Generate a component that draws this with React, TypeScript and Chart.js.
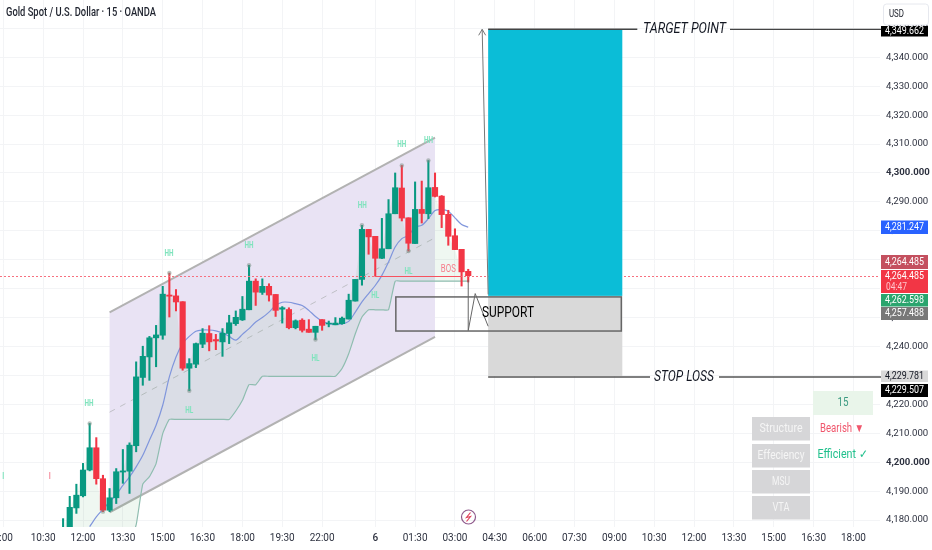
import React, { useEffect, useRef } from "react";
import { Chart, registerables } from "chart.js";

Chart.register(...registerables);

const FONT = 'Roboto, sans-serif';
const firstCandle = 9;
const firstMa = 13;

const opens = [4172,4172,4184.2,4188.4,4197.3,4205.0,4194.3,4183.4,4187.7,4196.6,4196.9,4205.7,4229.3,4236.4,4243.0,4243.9,4257.8,4257.5,4255.5,4232.5,4233.9,4240.8,4244.5,4242.4,4241.6,4244.5,4247.9,4249.2,4252.7,4262.6,4258.7,4260.8,4258.0,4252.9,4252.8,4246.5,4249.1,4246.0,4244.9,4249.3,4247.8,4247.5,4247.9,4249.5,4255.7,4263.2,4280.5,4278.1,4270.5,4273.8,4285.9,4294.8,4284.5,4275.6,4287.4,4285.9,4295.0,4292.0,4285.7,4278.3,4273.6,4266.0];
const closes = [4176,4184.4,4188.6,4197.3,4205.0,4194.3,4183.4,4187.7,4196.7,4197.0,4205.9,4229.5,4236.6,4243.0,4244.0,4258.1,4257.4,4255.4,4232.5,4234.1,4241.0,4244.6,4241.6,4241.9,4244.6,4248.2,4250.1,4252.9,4262.6,4258.8,4260.8,4257.8,4252.5,4253.4,4246.5,4248.9,4245.6,4244.9,4247.0,4247.3,4248.1,4248.1,4249.8,4256.0,4263.2,4280.5,4277.9,4270.5,4273.8,4285.9,4294.9,4284.4,4275.7,4287.4,4286.0,4294.9,4291.9,4285.6,4278.1,4273.5,4265.8,4264.485];
const highs = [4180.5,4188.2,4192.4,4199.6,4213.4,4208.5,4195.5,4190.9,4197.8,4204.4,4206.7,4234.7,4240.1,4243.5,4247.3,4260.8,4265.4,4259.7,4255.5,4235.8,4241.2,4246.2,4247.2,4244.2,4246.2,4250.8,4252.3,4257.3,4268.1,4263.4,4263.4,4261.7,4258.0,4253.8,4253.4,4249.2,4249.6,4249.3,4247.0,4249.3,4248.8,4250.0,4250.2,4258.1,4263.2,4281.9,4280.5,4278.1,4284.3,4290.8,4300.0,4302.6,4284.5,4296.9,4297.2,4304.3,4300.0,4292.2,4287.1,4280.7,4273.6,4266.7];
const lows = [4170,4170,4182.3,4188.0,4197.0,4192.4,4182.9,4182.9,4185.7,4192.7,4189.2,4203.6,4226.6,4228.3,4233.0,4242.5,4250.2,4252.3,4231.8,4224.7,4232.7,4239.6,4238.5,4238.9,4236.6,4241.0,4247.3,4249.0,4252.7,4254.2,4258.0,4255.7,4250.4,4248.1,4246.1,4246.1,4245.0,4244.9,4242.4,4245.6,4246.8,4247.5,4247.7,4249.5,4255.7,4261.2,4271.9,4264.3,4270.4,4273.8,4285.9,4283.4,4273.0,4275.6,4282.7,4284.2,4291.7,4281.1,4275.0,4273.5,4260.9,4262.3];
const maLine = [4177.7,4181.1,4183.7,4186.3,4188.8,4192.0,4194.9,4198.4,4202.4,4207.6,4212.8,4219.7,4229.5,4236.4,4241.0,4243.5,4245.3,4245.7,4245.7,4245.4,4244.7,4243.5,4242.2,4244.2,4246.2,4248.5,4250.0,4251.9,4254.2,4255.3,4255.3,4254.8,4254.2,4252.5,4250.4,4248.8,4247.9,4247.7,4247.8,4248.7,4251.9,4255.4,4258.3,4261.1,4264.6,4269.2,4274.4,4277.3,4278.4,4281.3,4281.9,4284.2,4287.0,4287.3,4286.8,4284.5,4282.2,4281.247];
const bandLine = [4165,4165,4165,4165,4165,4165,4165,4165,4165,4165,4172,4178.3,4192.4,4195.0,4199.5,4209.9,4214.8,4214.8,4214.8,4214.8,4214.8,4214.8,4214.8,4214.8,4214.8,4214.8,4217.7,4221.4,4226.8,4226.8,4229.7,4229.7,4229.7,4229.7,4229.7,4229.7,4229.7,4229.7,4229.7,4229.7,4229.7,4229.7,4232.4,4237.5,4244.4,4250.2,4252.7,4252.7,4252.7,4252.7,4262.598,4262.598,4262.598,4262.598,4262.598,4262.598,4262.598,4262.598,4262.598,4262.598,4262.598,4262.598];

const highPivots = [13, 25, 37, 54, 60, 64];
const lowPivots = [15, 28, 47, 61];

const timeTickIndex = [0,6,12,18,24,30,36,42,48,56,62,68,74,80,86,92,98,104,110,116,122,128];
const timeTickLabels = ["9:00","10:30","12:00","13:30","15:00","16:30","18:00","19:30","22:00","6","01:30","03:00","04:30","06:00","07:30","09:00","10:30","12:00","13:30","15:00","16:30","18:00"];
const priceTicks = [4180,4190,4200,4210,4220,4230,4240,4250,4260,4270,4280,4290,4300,4310,4320,4330,4340,4350];

const channelIndex = [16, 65];
const channelTop = [4251.8, 4312.2];
const channelMid = [4217.3, 4277.6];
const channelBottom = [4182.7, 4243.3];

const targetPrice = 4349.662;
const stopPrice = 4229.781;
const supportTopPrice = 4257.488;
const supportBottomPrice = 4245.7;
const lastPrice = 4264.485;
const boxIndex = [73, 93.2];
const supportIndex = [59.1, 93.05];
const arrowPath = [[73, 4258], [72.1, targetPrice]];
const zigzagPath = [[70, 4263], [70, 4245.5], [71.05, 4258.3], [73, 4247]];
const bosIndex = [56, 69];

const structureLabels: [string, number, number][] = [
  ["HH", 12.9, 4220.1], ["HH", 24.95, 4272.0], ["HH", 37, 4274.8], ["HH", 54.06, 4288.7], ["HH", 60, 4309.7], ["HH", 64, 4311.2],
  ["HL", 28, 4217.7], ["HL", 47, 4235.7], ["HL", 56, 4257.5], ["HL", 61, 4265.8],
];
const priceTags: [string, number, number, string, string][] = [
  ["4,349.662", 26, 36.5, "#000000", "#ffffff"],
  ["4,281.247", 220.5, 234, "#2962ff", "#ffffff"],
  ["4,264.485", 255, 269, "#c4505f", "#ffffff"],
  ["4,264.485", 270, 293, "#f23645", "#ffffff"],
  ["4,262.598", 294, 306.5, "#2aa56e", "#ffffff"],
  ["4,257.488", 307, 320, "#787878", "#ffffff"],
  ["4,229.781", 370.5, 382, "#d9d9d9", "#131722"],
  ["4,229.507", 384, 397, "#000000", "#ffffff"],
];
const tableRows: [string, number][] = [["Structure", 43], ["Effeciency", 47], ["MSU", 18], ["VTA", 17]];

const UP = "#089981";
const DOWN = "#f23645";

const overlay = {
  id: "overlay",
  beforeDatasetsDraw(chart: any) {
    const { ctx, scales: { x, y } } = chart;
    const X = (i: number) => x.getPixelForValue(i);
    const Y = (v: number) => y.getPixelForValue(v);
    ctx.save();
    ctx.fillStyle = "#e9e3f4";
    ctx.beginPath();
    ctx.moveTo(X(channelIndex[0]), Y(channelTop[0]));
    ctx.lineTo(X(channelIndex[1]), Y(channelTop[1]));
    ctx.lineTo(X(channelIndex[1]), Y(channelBottom[1]));
    ctx.lineTo(X(channelIndex[0]), Y(channelBottom[0]));
    ctx.closePath();
    ctx.fill();
    ctx.strokeStyle = "#b2b2b2";
    ctx.lineWidth = 2;
    for (const edge of [channelTop, channelBottom]) {
      ctx.beginPath();
      ctx.moveTo(X(channelIndex[0]), Y(edge[0]));
      ctx.lineTo(X(channelIndex[1]), Y(edge[1]));
      ctx.stroke();
    }
    ctx.strokeStyle = "#c0c0c6";
    ctx.lineWidth = 1;
    ctx.setLineDash([6, 6]);
    ctx.beginPath();
    ctx.moveTo(X(channelIndex[0]), Y(channelMid[0]));
    ctx.lineTo(X(channelIndex[1]), Y(channelMid[1]));
    ctx.stroke();
    ctx.restore();
  },
  afterDatasetsDraw(chart: any) {
    const { ctx, scales: { x, y } } = chart;
    const X = (i: number) => x.getPixelForValue(i);
    const Y = (v: number) => y.getPixelForValue(v);
    // draws text squeezed to the width it has in the reference
    const text = (s: string, px: number, py: number, font: string, color: string, width: number, align: CanvasTextAlign = "center") => {
      ctx.save();
      ctx.font = font;
      ctx.fillStyle = color;
      ctx.textAlign = align;
      ctx.textBaseline = "middle";
      ctx.translate(px, py);
      ctx.scale(width / ctx.measureText(s).width, 1);
      ctx.fillText(s, 0, 0);
      ctx.restore();
    };
    const line = (x1: number, y1: number, x2: number, y2: number, color: string, w: number) => {
      ctx.strokeStyle = color;
      ctx.lineWidth = w;
      ctx.beginPath();
      ctx.moveTo(x1, y1);
      ctx.lineTo(x2, y2);
      ctx.stroke();
    };
    ctx.save();

    // title
    text("Gold Spot / U.S. Dollar · 15 · OANDA", 6, 13, `500 12.5px ${FONT}`, "#1e222d", 150, "left");

    // last-price dotted line
    const lastY = Math.round(Y(lastPrice)) + 0.5;
    ctx.setLineDash([2, 2]);
    line(0, lastY, 880, lastY, "#f7707f", 1);
    ctx.setLineDash([]);

    // BOS line
    line(X(bosIndex[0]), lastY, X(bosIndex[1]), lastY, "#f7525f", 1.2);
    text("BOS", X(67), Y(4266.7), `11px ${FONT}`, "#f77c8a", 15);

    // structure labels
    for (const [s, i, v] of structureLabels) text(s, X(i), Y(v), `bold 8.5px ${FONT}`, "#7fe3bd", s === "HH" ? 9 : 8);
    text("I", X(0), Y(4194.9), `bold 8.5px ${FONT}`, "#7fe3bd", 2);
    text("I", X(7), Y(4194.9), `bold 8.5px ${FONT}`, "#f58a9a", 2);

    // risk / reward boxes
    const bx1 = X(boxIndex[0]), bx2 = X(boxIndex[1]);
    ctx.fillStyle = "#0bbdd7";
    ctx.fillRect(bx1, Y(targetPrice), bx2 - bx1, Y(supportTopPrice) - Y(targetPrice));
    ctx.fillStyle = "#d9d9d9";
    ctx.fillRect(bx1, Y(supportTopPrice), bx2 - bx1, Y(stopPrice) - Y(supportTopPrice));
    line(bx1, Y(targetPrice), bx2 + 15, Y(targetPrice), "#444444", 1.5);
    line(730, Y(targetPrice), 882, Y(targetPrice), "#444444", 1.2);
    line(bx1, Y(stopPrice) + 1, 650, Y(stopPrice) + 1, "#555555", 1.5);
    line(719, Y(stopPrice) + 1, 882, Y(stopPrice) + 1, "#555555", 1.5);
    text("TARGET POINT", 684.5, Y(targetPrice), `italic 15px ${FONT}`, "#131722", 83);
    text("STOP LOSS", 684, Y(stopPrice) + 1, `italic 15px ${FONT}`, "#131722", 60);

    // support box
    ctx.strokeStyle = "#666666";
    ctx.lineWidth = 1.5;
    ctx.strokeRect(X(supportIndex[0]), Y(supportTopPrice) + 1, X(supportIndex[1]) - X(supportIndex[0]), Y(supportBottomPrice) - Y(supportTopPrice));

    // arrow
    const [a0, a1] = arrowPath;
    line(X(a0[0]), Y(a0[1]), X(a1[0]), Y(a1[1]), "#777777", 1);
    const ax = X(a1[0]), ay = Y(a1[1]);
    ctx.strokeStyle = "#777777";
    ctx.beginPath();
    ctx.moveTo(ax - 3.5, ay + 6);
    ctx.lineTo(ax, ay);
    ctx.lineTo(ax + 3.5, ay + 6);
    ctx.stroke();

    // zigzag
    ctx.strokeStyle = "#666666";
    ctx.lineWidth = 1;
    ctx.beginPath();
    zigzagPath.forEach(([i, v], k) => (k ? ctx.lineTo(X(i), Y(v)) : ctx.moveTo(X(i), Y(v))));
    ctx.stroke();

    text("SUPPORT", 508, 313.5, `14.5px ${FONT}`, "#000000", 52);

    // lightning icon
    ctx.strokeStyle = "#8f5a8c";
    ctx.lineWidth = 1.2;
    ctx.beginPath();
    ctx.arc(468.5, 517, 7, 0, Math.PI * 2);
    ctx.stroke();
    ctx.strokeStyle = "#e0405a";
    ctx.beginPath();
    ctx.moveTo(470.5, 512.5);
    ctx.lineTo(466.5, 517.5);
    ctx.lineTo(470.5, 516.5);
    ctx.lineTo(466.5, 521.5);
    ctx.stroke();

    // table
    ctx.fillStyle = "#e9f5ea";
    ctx.fillRect(813, 391, 60, 24);
    text("15", 843, 403, `12px ${FONT}`, "#3a9a80", 11);
    const rowTop = [417, 444, 470, 496];
    tableRows.forEach(([r, w], k) => {
      ctx.fillStyle = "#d6d6d8";
      ctx.fillRect(752, rowTop[k], 58, 23.5);
      text(r, 781, rowTop[k] + 11.75, `12px ${FONT}`, "#f5f5f5", w);
    });
    text("Bearish ▼", 842, 428.5, `12px ${FONT}`, "#f0566c", 44);
    text("Efficient ✓", 842.5, 454.5, `12px ${FONT}`, "#20c08c", 50);

    // USD button
    ctx.fillStyle = "#ffffff";
    ctx.strokeStyle = "#e6e8ee";
    ctx.lineWidth = 1;
    ctx.beginPath();
    ctx.roundRect(883.5, 4, 45, 21, 3);
    ctx.fill();
    ctx.stroke();
    text("USD", 889, 14.5, `11px ${FONT}`, "#131722", 15, "left");

    // price tags
    for (const [s, top, bottom, bg, fg] of priceTags) {
      ctx.fillStyle = bg;
      ctx.fillRect(881, top, 47, bottom - top);
      const tall = bottom - top > 18;
      text(s, 904.5, tall ? top + 6 : (top + bottom) / 2, `11px ${FONT}`, fg, 39);
      if (tall) text("04:47", 886, top + 17, `10.5px ${FONT}`, "#ffc4cb", 21, "left");
    }
    ctx.restore();
  },
};

export default function App() {
  const ref = useRef<HTMLCanvasElement>(null);
  useEffect(() => {
    const idx = opens.map((_, k) => k + firstCandle);
    const colors = opens.map((o, k) => (closes[k] >= o ? UP : DOWN));
    const chart = new Chart(ref.current as HTMLCanvasElement, {
      type: "bar",
      data: {
        datasets: [
          {
            type: "line",
            data: idx.map((i, k) => ({ x: i, y: closes[k] })),
            borderWidth: 0,
            pointRadius: 0,
            tension: 0,
            fill: { target: 1, above: "rgba(55,155,75,0.08)", below: "rgba(55,155,75,0.08)" },
            order: 6,
          },
          {
            type: "line",
            data: idx.map((i, k) => ({ x: i, y: bandLine[k] })),
            borderColor: "#8fbdb0",
            borderWidth: 1.2,
            pointRadius: 0,
            tension: 0.15,
            order: 5,
          },
          {
            type: "line",
            data: maLine.map((v, k) => ({ x: k + firstMa, y: v })),
            borderColor: "#8096dc",
            borderWidth: 1.2,
            pointRadius: 0,
            tension: 0.3,
            order: 4,
          },
          {
            type: "bar",
            data: idx.map((i, k) => ({ x: i, y: [lows[k], highs[k]] })),
            backgroundColor: colors,
            barThickness: 1.4,
            grouped: false,
            order: 3,
          },
          {
            type: "bar",
            data: idx.map((i, k) => ({ x: i, y: [opens[k], closes[k]] })),
            backgroundColor: colors,
            barThickness: 5.5,
            grouped: false,
            order: 2,
          },
          {
            type: "line",
            data: [
              ...highPivots.map((i) => ({ x: i, y: highs[i - firstCandle] })),
              ...lowPivots.map((i) => ({ x: i, y: lows[i - firstCandle] })),
            ],
            showLine: false,
            pointRadius: 2.2,
            pointBorderWidth: 0,
            pointBackgroundColor: "rgba(120,140,130,0.5)",
            order: 1,
          },
        ] as any,
      },
      options: {
        responsive: false,
        animation: false,
        devicePixelRatio: 1,
        layout: { padding: 0, autoPadding: false },
        plugins: { legend: { display: false }, title: { display: false }, tooltip: { enabled: false } },
        scales: {
          x: {
            type: "linear",
            min: -0.5,
            max: 132,
            offset: false,
            border: { display: false },
            grid: { color: "#f3f4f6", offset: false, drawTicks: false },
            afterBuildTicks: (s: any) => { s.ticks = timeTickIndex.map((value) => ({ value })); },
            afterFit: (s: any) => { s.height = 23; s.paddingLeft = 0; s.paddingRight = 0; },
            ticks: {
              autoSkip: false,
              maxRotation: 0,
              padding: 5,
              color: "#2e3240",
              font: (c: any) => ({ family: FONT, size: 10, weight: c.tick && c.tick.value === 56 ? "500" : "normal" }),
              callback: (v: any) => timeTickLabels[timeTickIndex.indexOf(v)],
            },
          },
          y: {
            type: "linear",
            position: "right",
            min: 4177.6,
            max: 4359.8,
            border: { display: false },
            grid: { color: "#f3f4f6", drawTicks: false },
            afterBuildTicks: (s: any) => { s.ticks = priceTicks.map((value) => ({ value })); },
            afterFit: (s: any) => { s.width = 52; s.paddingTop = 0; s.paddingBottom = 0; },
            ticks: {
              autoSkip: false,
              padding: 6,
              color: "#2e3240",
              font: (c: any) => ({ family: FONT, size: 9.6, weight: c.tick && (c.tick.value === 4300 || c.tick.value === 4200) ? "bold" : "normal" }),
              callback: (v: any) => Number(v).toLocaleString("en-US", { minimumFractionDigits: 3 }),
            },
          },
        },
      } as any,
      plugins: [overlay],
    });
    return () => chart.destroy();
  }, []);
  return (
    <div style={{ position: "fixed", left: 0, top: 0, width: 932, height: 550, background: "#ffffff" }}>
      <canvas ref={ref} width={932} height={550} style={{ display: "block" }} />
    </div>
  );
}
